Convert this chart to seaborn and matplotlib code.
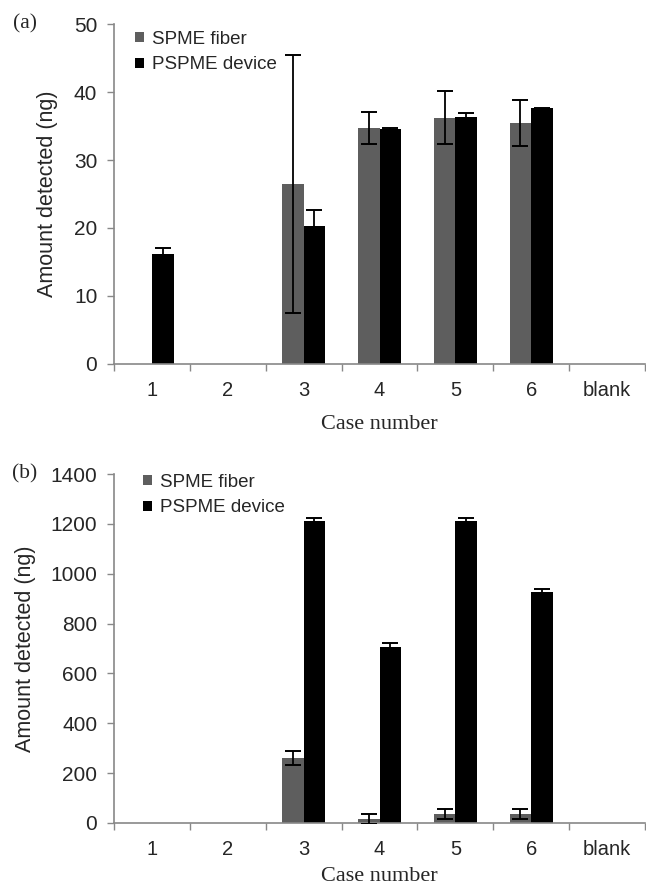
import seaborn as sns
import pandas as pd
import matplotlib.pyplot as plt

cases = ['1', '2', '3', '4', '5', '6', 'blank']
methods = ['SPME fiber', 'PSPME device']

# panel (a)
a_fiber = [0, 0, 26.5, 34.7, 36.2, 35.4, 0]
a_fiber_err = [0, 0, 19.0, 2.4, 3.9, 3.4, 0]
a_device = [16.2, 0, 20.3, 34.5, 36.3, 37.6, 0]
a_device_err = [0.9, 0, 2.4, 0.2, 0.6, 0.1, 0]

# panel (b)
b_fiber = [0, 0, 262, 15, 35, 35, 0]
b_fiber_err = [0, 0, 28, 20, 20, 20, 0]
b_device = [0, 0, 1210, 706, 1210, 925, 0]
b_device_err = [0, 0, 15, 15, 15, 12, 0]

colors = ['#5e5e5e', '#000000']

sns.set_style('white')
plt.rcParams['font.family'] = ['Liberation Sans', 'DejaVu Sans']


def make_df(fiber, fiber_err, device, device_err):
    rows = []
    for i, c in enumerate(cases):
        rows.append((c, methods[0], fiber[i], fiber_err[i]))
    for i, c in enumerate(cases):
        rows.append((c, methods[1], device[i], device_err[i]))
    return pd.DataFrame(rows, columns=['case', 'method', 'amount', 'err'])


def draw(ax, df, ymax, step, ylab_x, xlab_y, leg_xy):
    sns.barplot(data=df, x='case', y='amount', hue='method', order=cases,
                hue_order=methods, palette=colors, width=0.57, errorbar=None,
                saturation=1, linewidth=0, ax=ax)
    # error bars on top of each bar
    for cont, m in zip(ax.containers, methods):
        sub = df[df.method == m].set_index('case').loc[cases]
        for p, v, e in zip(cont.patches, sub.amount, sub.err):
            if e > 0:
                ax.errorbar(p.get_x() + p.get_width() / 2, v, yerr=e,
                            color='black', capsize=5.5, elinewidth=1.3,
                            capthick=1.4, zorder=5)
    ax.set_xlim(-0.5, 6.5)
    ax.set_ylim(0, ymax)
    ax.set_yticks(range(0, ymax + 1, step))
    ax.set_xticks([i + 0.5 for i in range(-1, 7)], minor=True)
    ax.tick_params(axis='x', which='major', length=0, labelsize=14.5, pad=12)
    ax.tick_params(axis='x', which='minor', length=5, width=1, color='#888888', direction='out', bottom=True)
    ax.tick_params(axis='y', length=5, width=1, color='#888888', direction='out', left=True,
                   labelsize=15, pad=7)
    sns.despine(ax=ax)
    for s in ['left', 'bottom']:
        ax.spines[s].set_color('#888888')
        ax.spines[s].set_linewidth(1.2)
    ax.set_xlabel('Case number', family='Liberation Serif', fontsize=16)
    ax.xaxis.set_label_coords(0.5, xlab_y)
    ax.set_ylabel('Amount detected (ng)', fontsize=15.5)
    ax.yaxis.set_label_coords(ylab_x, 0.5)
    ax.legend(frameon=False, loc='upper left', bbox_to_anchor=leg_xy,
              fontsize=13.5, handlelength=0.45, handleheight=0.45, handletextpad=0.45,
              labelspacing=0.45, borderaxespad=0, borderpad=0)


fig = plt.figure(figsize=(6.46, 8.92), dpi=100)
ax1 = fig.add_axes([0.1765, 0.592, 0.822, 0.381])
ax2 = fig.add_axes([0.1765, 0.0774, 0.822, 0.3912])

draw(ax1, make_df(a_fiber, a_fiber_err, a_device, a_device_err), 50, 10,
     -0.105, -0.15, (0.04, 0.98))
draw(ax2, make_df(b_fiber, b_fiber_err, b_device, b_device_err), 1400, 200,
     -0.147, -0.125, (0.055, 1.0))

fig.text(25 / 646, 1 - 24 / 892, '(a)', family='Liberation Serif', fontsize=15.5,
         ha='center', va='center')
fig.text(25 / 646, 1 - 474 / 892, '(b)', family='Liberation Serif', fontsize=15.5,
         ha='center', va='center')

fig.savefig('out.png', dpi=100)
